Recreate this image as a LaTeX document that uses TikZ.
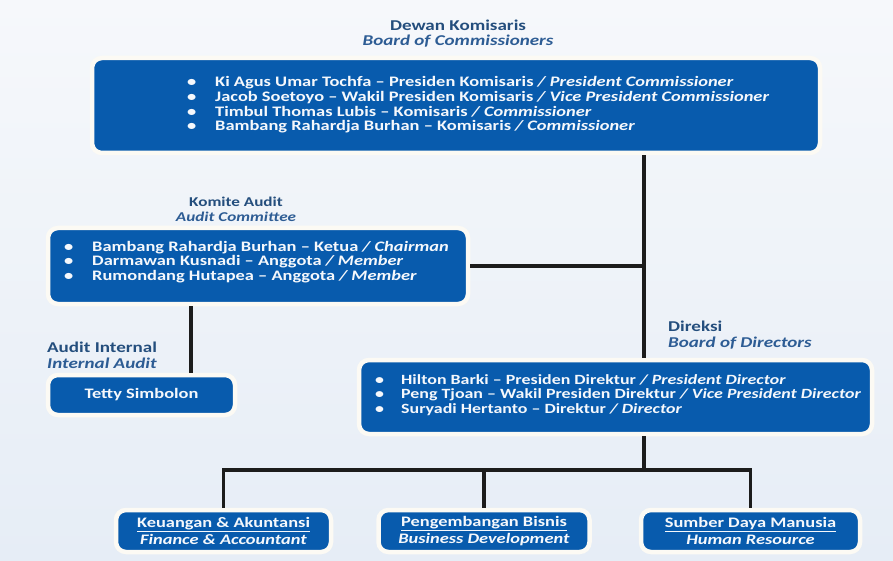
\documentclass[tikz,border=0pt]{standalone}
\usepackage{fontspec}
\setmainfont{Carlito}[FakeStretch=1.27]
\usetikzlibrary{shadows}
\definecolor{boxblue}{RGB}{8,91,173}
\definecolor{boxedge}{RGB}{252,250,244}
\definecolor{lblblue}{RGB}{36,78,125}
\definecolor{lblblueit}{RGB}{45,92,148}
\definecolor{connblack}{RGB}{28,28,28}
\definecolor{bgtop}{RGB}{246,248,251}
\definecolor{bgbot}{RGB}{230,237,246}
\definecolor{txtwhite}{RGB}{245,248,252}
\begin{document}
\begin{tikzpicture}[x=1pt,y=-1pt,
  orgbox/.style={draw=boxedge, line width=4.5pt, fill=boxblue, rounded corners=10pt,
    inner sep=0pt, text=txtwhite, align=center,
    drop shadow={opacity=0.15, shadow xshift=1pt, shadow yshift=-1.5pt}},
  listtext/.style={text=txtwhite, align=left, inner sep=0pt, anchor=west,
    font=\bfseries\fontsize{14.5}{14.7}\selectfont},
  boxtext/.style={font=\bfseries\fontsize{14.5}{17.5}\selectfont},
  lbl/.style={text=lblblue, inner sep=0pt, font=\bfseries\fontsize{15}{16}\selectfont},
  lbli/.style={text=lblblueit, inner sep=0pt, font=\bfseries\itshape\fontsize{15}{16}\selectfont},
  lbls/.style={text=lblblue, inner sep=0pt, font=\bfseries\fontsize{13.5}{14}\selectfont},
  lblsi/.style={text=lblblueit, inner sep=0pt, font=\bfseries\itshape\fontsize{13.5}{14}\selectfont},
  conn/.style={draw=connblack, line width=3.5pt}]
\useasboundingbox (0,0) rectangle (893,561);
\shade[top color=bgtop, bottom color=bgbot] (0,0) rectangle (893,561);
\newcommand{\bul}[1]{\makebox[#1][l]{\textbullet}}

% labels
\node[lbl] (dk) at (458,25) {Dewan Komisaris};
\node[lbli] (boc) at (458,41) {Board of Commissioners};
\node[lbls] (ka) at (236,202) {Komite Audit};
\node[lblsi] (ac) at (236,217) {Audit Committee};
\node[lbl, anchor=west] (ai) at (47,347) {Audit Internal};
\node[lbli, anchor=west] (ia) at (47,363) {Internal Audit};
\node[lbl, anchor=west] (dr) at (668,326) {Direksi};
\node[lbli, anchor=west] (bod) at (668,343) {Board of Directors};

% boxes
\node[orgbox, minimum width=728pt, minimum height=95pt] (top) at (456,105.5) {};
\node[listtext] (toptext) at (187,105) {%
\bul{28pt}Ki Agus Umar Tochfa -- Presiden Komisaris \textit{/ President Commissioner}\\
\bul{28pt}Jacob Soetoyo -- Wakil Presiden Komisaris \textit{/ Vice President Commissioner}\\
\bul{28pt}Timbul Thomas Lubis -- Komisaris \textit{/ Commissioner}\\
\bul{28pt}Bambang Rahardja Burhan -- Komisaris \textit{/ Commissioner}};

\node[orgbox, minimum width=420pt, minimum height=76pt] (audit) at (258,266) {};
\node[listtext] (audittext) at (64,262) {%
\bul{28pt}Bambang Rahardja Burhan -- Ketua \textit{/ Chairman}\\
\bul{28pt}Darmawan Kusnadi -- Anggota \textit{/ Member}\\
\bul{28pt}Rumondang Hutapea -- Anggota \textit{/ Member}};

\node[orgbox, boxtext, minimum width=187pt, minimum height=40pt] (tetty) at (141.5,395) {Tetty Simbolon};

\node[orgbox, minimum width=513pt, minimum height=74pt] (direksi) at (615.5,397) {};
\node[listtext, font=\bfseries\fontsize{14.1}{14.3}\selectfont] (dirtext) at (375,395) {%
\bul{26pt}Hilton Barki -- Presiden Direktur \textit{/ President Director}\\
\bul{26pt}Peng Tjoan -- Wakil Presiden Direktur \textit{/ Vice President Director}\\
\bul{26pt}Suryadi Hertanto -- Direktur \textit{/ Director}};

\node[orgbox, boxtext, minimum width=215pt, minimum height=42pt] (keu) at (223.5,531)
  {\underline{Keuangan \& Akuntansi}\\\textit{Finance \& Accountant}};
\node[orgbox, boxtext, minimum width=211pt, minimum height=42pt] (peng) at (484,531)
  {\underline{Pengembangan Bisnis}\\\textit{Business Development}};
\node[orgbox, boxtext, minimum width=219pt, minimum height=42pt] (sdm) at (750.5,531)
  {\underline{Sumber Daya Manusia}\\\textit{Human Resource}};

% connectors
\coordinate (jx) at (644,266);
\coordinate (ax) at (191,0);
\coordinate (bus) at (644,470);
\draw[conn] (top.south -| jx) -- (direksi.north -| jx);
\draw[conn] (audit.east) -- (jx);
\draw[conn] (audit.south -| ax) -- (tetty.north -| ax);
\draw[conn] (direksi.south -| bus) -- (bus);
\draw[conn] (keu.north) -- (keu.north |- bus) -- (sdm.north |- bus) -- (sdm.north);
\draw[conn] (peng.north) -- (peng.north |- bus);
\end{tikzpicture}
\end{document}
